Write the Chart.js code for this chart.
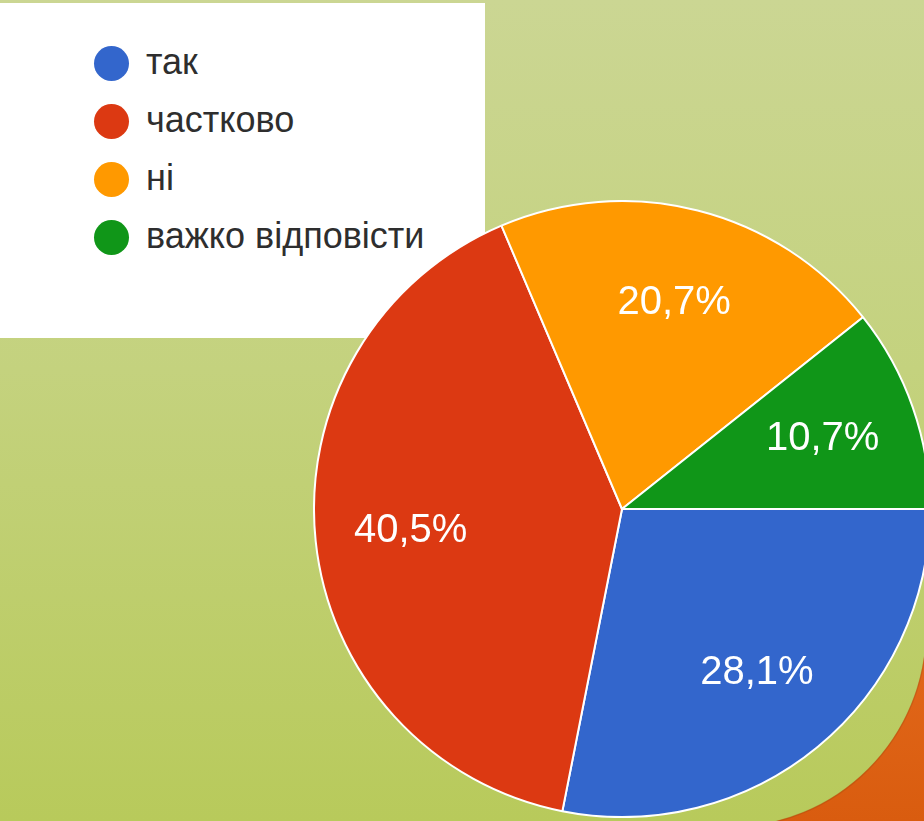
<!DOCTYPE html>
<html>
<head>
<meta charset="utf-8">
<script src="https://cdn.jsdelivr.net/npm/chart.js@4.4.1/dist/chart.umd.min.js"></script>
<style>
  html, body { margin: 0; padding: 0; }
  body {
    width: 924px; height: 821px; overflow: hidden; position: relative;
    background: linear-gradient(to bottom, #cbd693 0%, #c4d27e 45%, #b8ca5b 100%);
    font-family: Arial, "Liberation Sans", sans-serif;
  }
  #deco { position: absolute; left: 0; top: 0; }
  #legendBox {
    position: absolute; left: 0; top: 3px; width: 485px; height: 335px;
    background: #fff;
  }
  #legend { list-style: none; margin: 0; padding: 0; position: absolute; left: 94px; top: 31px; }
  #legend li { height: 58px; display: flex; align-items: center; }
  #legend .dot { width: 35px; height: 35px; border-radius: 50%; margin-right: 17px; }
  #legend span { font-size: 36px; color: #2e2e2e; line-height: 1; position: relative; top: -1px; }
  #pieWrap { position: absolute; left: 313px; top: 200px; width: 618px; height: 618px; }
</style>
</head>
<body>
<canvas id="deco" width="924" height="821"></canvas>
<div id="legendBox"><ul id="legend"></ul></div>
<div id="pieWrap"><canvas id="myChart"></canvas></div>
<script>
// DATA
var labels = ['так', 'частково', 'ні', 'важко відповісти'];
var values = [28.1, 40.5, 20.7, 10.7];
var valueLabels = ['28,1%', '40,5%', '20,7%', '10,7%'];
var colors = ['#3366cc', '#dc3912', '#ff9900', '#109618'];

// orange corner of the slide (decoration)
var dc = document.getElementById('deco').getContext('2d');
var grd = dc.createLinearGradient(0, 640, 0, 821);
grd.addColorStop(0, '#e2681a');
grd.addColorStop(1, '#d95c0f');
dc.fillStyle = grd;
dc.beginPath();
dc.rect(728, 629, 300, 300);
dc.arc(728, 629, 198, 0, Math.PI / 2);
dc.fill('evenodd');
dc.strokeStyle = 'rgba(120,60,10,0.2)';
dc.lineWidth = 1.5;
dc.beginPath();
dc.arc(728, 629, 198.5, 0, Math.PI / 2);
dc.stroke();

// legend
var legendEl = document.getElementById('legend');
labels.forEach(function (lbl, i) {
  var li = document.createElement('li');
  li.innerHTML = '<div class="dot" style="background:' + colors[i] + '"></div><span>' + lbl + '</span>';
  legendEl.appendChild(li);
});

// slice labels
var sliceLabels = {
  id: 'sliceLabels',
  afterDatasetsDraw: function (chart) {
    var ctx = chart.ctx;
    var meta = chart.getDatasetMeta(0);
    ctx.save();
    ctx.fillStyle = '#ffffff';
    ctx.font = '40px Arial, "Liberation Sans", sans-serif';
    ctx.textAlign = 'center';
    ctx.textBaseline = 'middle';
    meta.data.forEach(function (arc, i) {
      var mid = (arc.startAngle + arc.endAngle) / 2;
      var r = arc.outerRadius * 0.69;
      ctx.fillText(valueLabels[i], arc.x + Math.cos(mid) * r, arc.y + Math.sin(mid) * r);
    });
    ctx.restore();
  }
};

var ctx = document.getElementById('myChart').getContext('2d');
var myChart = new Chart(ctx, {
  type: 'pie',
  data: {
    labels: labels,
    datasets: [{
      data: values,
      backgroundColor: colors,
      borderColor: '#ffffff',
      borderWidth: 2
    }]
  },
  options: {
    responsive: true,
    maintainAspectRatio: false,
    animation: false,
    rotation: 90,
    layout: { padding: 0 },
    plugins: {
      legend: { display: false },
      tooltip: { enabled: false }
    }
  },
  plugins: [sliceLabels]
});
</script>
</body>
</html>
